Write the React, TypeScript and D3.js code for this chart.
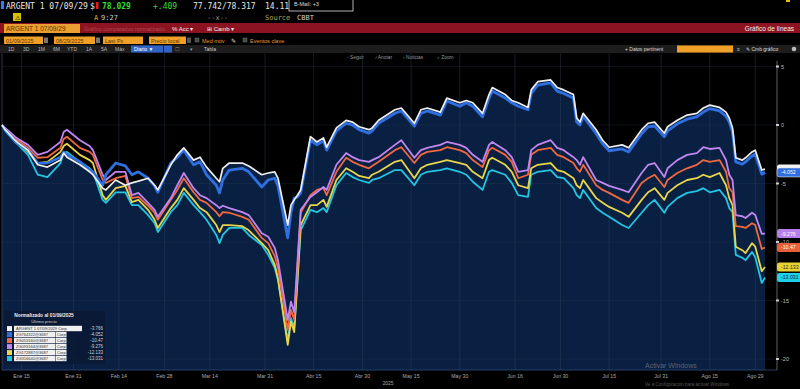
import * as d3 from 'd3';

// fechas (normalizado al 01/09/2025)
const fechas = [
  '2025-01-09','2025-01-10','2025-01-13','2025-01-14','2025-01-17','2025-01-20','2025-01-23','2025-01-27','2025-01-28','2025-01-29',
  '2025-02-02','2025-02-05','2025-02-06','2025-02-09','2025-02-10','2025-02-13','2025-02-16','2025-02-18','2025-02-20','2025-02-23',
  '2025-02-25','2025-02-26','2025-03-02','2025-03-04','2025-03-06','2025-03-09','2025-03-11','2025-03-13','2025-03-16','2025-03-17',
  '2025-03-18','2025-03-20','2025-03-24','2025-03-26','2025-03-30','2025-04-01','2025-04-03','2025-04-04','2025-04-07','2025-04-08',
  '2025-04-09','2025-04-10','2025-04-11','2025-04-14','2025-04-16','2025-04-18','2025-04-19','2025-04-22','2025-04-25','2025-04-27',
  '2025-04-29','2025-05-02','2025-05-03','2025-05-05','2025-05-10','2025-05-12','2025-05-16','2025-05-18','2025-05-20','2025-05-24',
  '2025-05-26','2025-05-30','2025-06-01','2025-06-03','2025-06-06','2025-06-08','2025-06-09','2025-06-13','2025-06-15','2025-06-17',
  '2025-06-20','2025-06-21','2025-06-23','2025-06-27','2025-06-29','2025-07-01','2025-07-04','2025-07-05','2025-07-06','2025-07-07',
  '2025-07-11','2025-07-13','2025-07-15','2025-07-19','2025-07-21','2025-07-25','2025-07-27','2025-07-29','2025-08-01','2025-08-02',
  '2025-08-05','2025-08-08','2025-08-11','2025-08-13','2025-08-15','2025-08-18','2025-08-20','2025-08-21','2025-08-22','2025-08-23',
  '2025-08-25','2025-08-26','2025-08-28','2025-08-29','2025-08-31','2025-09-01'
];

const argent = [
  0,-0.4,-1.3,-1.55,-2.15,-3.4,-3.6,-3.0,-2.4,-2.75,
  -3.4,-4.0,-4.25,-5.4,-5.55,-4.7,-5.15,-4.95,-4.8,-4.55,
  -5.15,-5.55,-3.4,-2.55,-1.95,-3.0,-2.75,-3.6,-4.55,-4.85,
  -3.7,-3.25,-3.25,-3.5,-4.25,-4.1,-4.0,-4.55,-8.55,-6.85,
  -6.4,-6.0,-5.55,-1.0,-1.45,-1.1,-1.9,-0.25,0.4,0.25,
  -0.15,-0.4,-0.25,0.4,1.3,1.45,0.15,1.3,1.45,1.1,
  2.3,1.9,2.1,1.9,1.0,2.6,3.2,2.6,2.1,1.9,
  1.5,3.0,3.7,3.85,3.2,3.0,2.6,0.6,0.25,1.0,
  -0.4,-1.3,-1.9,-1.7,-1.95,-0.4,0.15,0.25,-0.7,-0.15,
  0.4,0.85,1.0,1.45,1.7,1.5,1.1,0.6,-0.25,-2.8,
  -3.0,-2.8,-2.3,-2.15,-3.85,-3.766
];

const serieAzul = [
  0,-0.4,-1.35,-1.6,-2.15,-3.25,-3.25,-2.75,-2.3,-2.55,
  -3.15,-3.85,-4.0,-5.15,-4.25,-3.25,-3.5,-4.25,-4.0,-4.55,
  -5.2,-5.75,-3.25,-2.75,-2.15,-3.4,-3.15,-4.25,-5.15,-5.8,
  -4.7,-3.85,-3.7,-4.0,-5.3,-4.7,-4.55,-5.2,-9.65,-7.45,
  -6.25,-6.15,-5.8,-1.3,-1.7,-1.35,-2.15,-0.5,0.15,0,
  -0.4,-0.7,-0.5,0.15,1.0,1.2,-0.1,1.0,1.2,0.85,
  2.05,1.6,1.9,1.6,0.7,2.3,2.9,2.3,1.9,1.6,
  1.3,2.7,3.4,3.6,2.9,2.7,2.3,0.25,0,0.75,
  -0.75,-1.6,-2.2,-2.05,-2.3,-0.75,-0.15,-0.1,-1.0,-0.5,
  0.1,0.5,0.7,1.1,1.4,1.2,0.75,0.25,-0.6,-3.15,
  -3.35,-3.15,-2.65,-2.5,-4.2,-4.052
];

const serieNaranja = [
  0,-0.35,-1.2,-1.35,-1.95,-2.8,-2.75,-1.95,-1.2,-1.0,
  -1.95,-2.3,-2.55,-4.7,-4.95,-4.55,-4.35,-6.25,-6.15,-6.9,
  -7.5,-8.1,-6.4,-5.55,-4.55,-5.75,-6.4,-6.65,-7.45,-7.8,
  -7.45,-7.5,-7.85,-8.1,-9.65,-10.1,-11.2,-12.2,-17.5,-15.8,
  -16.65,-12.2,-7.5,-6.0,-5.55,-5.4,-6.0,-4.0,-2.8,-3.15,
  -3.4,-3.7,-3.5,-3.15,-2.15,-1.9,-3.25,-2.55,-2.3,-2.15,
  -1.9,-2.15,-2.4,-3.0,-3.6,-2.15,-1.95,-2.55,-3.15,-4.55,
  -4.25,-2.55,-2.15,-1.95,-2.55,-2.75,-3.25,-3.7,-4.0,-3.4,
  -5.15,-5.55,-5.8,-6.4,-6.65,-4.95,-4.55,-4.25,-5.3,-4.7,
  -4.1,-3.7,-3.4,-3.0,-3.15,-3.0,-4.0,-5.4,-5.75,-8.65,
  -8.7,-8.8,-8.4,-8.55,-10.6,-10.47
];

const serieVioleta = [
  0,-0.25,-1.0,-1.2,-1.7,-2.55,-2.3,-1.45,-0.6,-0.4,
  -1.3,-1.8,-2.15,-4.25,-4.7,-4.0,-4.0,-6.0,-5.8,-6.65,
  -7.25,-7.85,-6.25,-5.15,-4.1,-5.4,-6.0,-6.25,-6.85,-7.1,
  -6.9,-7.1,-7.45,-7.7,-9.25,-9.55,-10.5,-11.55,-16.65,-15.1,
  -16.0,-11.7,-7.25,-6.15,-5.75,-5.3,-5.55,-3.4,-2.4,-2.75,
  -3.0,-3.15,-3.0,-2.75,-1.7,-1.3,-2.8,-2.15,-1.95,-1.7,
  -1.45,-1.7,-1.95,-2.55,-3.15,-1.7,-1.45,-2.15,-2.75,-4.0,
  -3.85,-2.15,-1.7,-1.3,-1.95,-2.15,-2.75,-3.0,-3.4,-2.75,
  -4.7,-4.95,-5.2,-5.55,-5.75,-4.1,-3.4,-3.25,-4.45,-3.7,
  -3.0,-2.55,-2.4,-1.9,-2.05,-1.95,-3.0,-4.25,-4.7,-7.7,
  -7.8,-7.95,-7.5,-7.7,-9.3,-9.276
];

const serieAmarilla = [
  0,-0.4,-1.3,-1.55,-2.3,-3.25,-3.15,-2.3,-1.8,-1.6,
  -2.55,-3.0,-3.25,-6.0,-6.4,-5.4,-5.2,-6.6,-6.4,-7.25,
  -8.1,-8.8,-7.1,-6.4,-5.4,-6.4,-7.1,-7.45,-8.55,-9.15,
  -8.55,-8.55,-8.65,-9.0,-10.1,-10.7,-11.95,-13.1,-18.8,-16.8,
  -17.7,-13.25,-8.55,-6.85,-6.85,-6.4,-7.0,-4.7,-3.7,-4.0,
  -4.35,-4.55,-4.25,-4.0,-3.15,-3.0,-4.55,-3.7,-3.4,-3.15,
  -3.0,-3.25,-3.4,-4.0,-4.55,-3.0,-2.8,-3.4,-4.0,-5.15,
  -5.4,-3.7,-3.4,-3.25,-3.85,-4.0,-4.55,-5.15,-5.4,-4.7,
  -6.25,-6.65,-7.0,-7.5,-7.85,-6.4,-5.75,-5.4,-6.4,-5.8,
  -5.15,-4.7,-4.55,-4.25,-4.45,-4.1,-5.15,-6.25,-6.85,-10.4,
  -10.7,-10.95,-10.1,-10.4,-12.5,-12.133
];

const serieCian = [
  0,-0.5,-1.45,-1.7,-2.55,-4.25,-4.45,-3.25,-2.4,-2.3,
  -3.15,-3.7,-4.0,-6.4,-6.65,-5.75,-5.75,-6.85,-6.85,-7.7,
  -8.4,-9.15,-7.45,-6.85,-5.8,-6.85,-7.45,-8.1,-9.4,-10.1,
  -9.4,-8.8,-8.8,-9.4,-10.25,-11.1,-12.2,-13.25,-18.4,-16.5,
  -17.35,-13.4,-9.0,-7.25,-7.45,-7.1,-7.45,-5.15,-4.1,-4.45,
  -4.7,-4.95,-4.7,-4.55,-3.85,-3.85,-5.15,-4.25,-4.0,-3.85,
  -3.7,-4.0,-4.25,-4.85,-5.55,-4.0,-3.85,-4.25,-4.95,-6.0,
  -6.15,-4.25,-4.0,-3.85,-4.45,-4.55,-5.4,-6.0,-6.25,-5.55,
  -7.1,-7.5,-7.85,-8.55,-8.8,-7.5,-6.85,-6.4,-7.5,-7.0,
  -6.25,-5.8,-5.65,-5.4,-5.75,-5.55,-6.25,-7.1,-7.45,-11.1,
  -11.35,-11.55,-10.85,-11.3,-13.5,-13.031
];

const ticksFecha = ['2025-01-15','2025-01-31','2025-02-14','2025-02-28','2025-03-14','2025-03-31','2025-04-15','2025-04-30',
  '2025-05-15','2025-05-30','2025-06-16','2025-06-30','2025-07-15','2025-07-31','2025-08-15','2025-08-29'];
const ticksEtiqueta = ['Ene 15','Ene 31','Feb 14','Feb 28','Mar 14','Mar 31','Abr 15','Abr 30',
  'May 15','May 30','Jun 16','Jun 30','Jul 15','Jul 31','Ago 15','Ago 29'];
const ticksY = [5, 0, -5, -10, -15, -20];

// legend order
const leyendaNombres = ['ARGENT 1 07/09/2029 Corp','ZG764322@3687','ZG053160@3687','ZG093164@3687','ZG172887@3687','ZG316640@3687'];
const leyendaValores = ['-3.766','-4.052','-10.47','-9.276','-12.133','-13.031'];
const leyendaColores = ['#f2f2f2','#2f6fe0','#f0683f','#c186f0','#e8d64a','#22c6e2'];

const parse = d3.timeParse('%Y-%m-%d');

const plotTop = 53, plotBottom = 370, plotLeft = 2, plotRight = 765, axisX = 777;
const mono = 'DejaVu Sans Mono, monospace';
const sans = 'Liberation Sans, Arial, sans-serif';

export default function App() {
  const fd = fechas.map(d => parse(d) as Date);
  const x = d3.scaleTime().domain([fd[0], fd[fd.length - 1]]).range([plotLeft, plotRight]);
  const y = d3.scaleLinear().domain([5, -20]).range([66.5, 359]);

  const lineGen = d3.line<number>().x((_, i) => x(fd[i])).y(v => y(v));
  const areaGen = d3.area<number>().x((_, i) => x(fd[i])).y0(plotBottom).y1(v => y(v));

  const lineas = [
    { v: serieCian, c: '#22c6e2', w: 1.8 },
    { v: serieAmarilla, c: '#e8d64a', w: 1.8 },
    { v: serieNaranja, c: '#f0683f', w: 1.8 },
    { v: serieVioleta, c: '#c186f0', w: 1.8 },
    { v: serieAzul, c: '#2f6fe0', w: 2.8 },
    { v: argent, c: '#eeeeee', w: 1.7 },
  ];

  // the white series' tag sits behind the blue one, only its edge shows
  const etiquetasDer = [
    { v: argent, c: '#f2f2f2', t: '', s: '' },
    { v: serieAzul, c: '#2f6fe0', t: '#fff', s: leyendaValores[1] },
    { v: serieVioleta, c: '#b77fe8', t: '#fff', s: leyendaValores[3] },
    { v: serieNaranja, c: '#e8603a', t: '#fff', s: leyendaValores[2] },
    { v: serieAmarilla, c: '#e8d030', t: '#333', s: leyendaValores[4] },
    { v: serieCian, c: '#1ed0ea', t: '#123', s: leyendaValores[5] },
  ];

  const orangeBox = (bx: number, bw: number, label: string) => (
    <g key={label}>
      <rect x={bx} y={36.5} width={bw} height={7.5} fill="#f0a028" />
      <text x={bx + 2} y={42.5} fontSize={5.5} fill="#5a3800" fontFamily={sans}>{label}</text>
    </g>
  );

  return (
    <svg width={800} height={389} style={{ position: 'absolute', left: 0, top: 0, display: 'block' }}>
      <rect x={0} y={0} width={800} height={389} fill="#000" />

      {/* header row 1 */}
      <rect x={1} y={1} width={3} height={8} fill="#2a7fff" />
      <text x={6} y={8.5} fontSize={8} fontFamily={mono} fill="#e6e6e6">ARGENT 1 07/09/29</text>
      <text x={90} y={8.5} fontSize={8} fontFamily={mono} fill="#e6e6e6">$</text>
      <rect x={96} y={2} width={2.5} height={7} fill="#e02020" />
      <text x={102} y={8.5} fontSize={8} fontFamily={mono} fontWeight="bold" fill="#33dd33">78.029</text>
      <text x={153} y={8.5} fontSize={8} fontFamily={mono} fill="#33dd33">+.409</text>
      <text x={193} y={8.5} fontSize={8} fontFamily={mono} fill="#e6e6e6">77.742/78.317</text>
      <text x={265} y={8.5} fontSize={8} fontFamily={mono} fill="#e6e6e6">14.11</text>
      <rect x={289} y={-1} width={64} height={12} fill="#000" stroke="#ddd" strokeWidth={0.8} />
      <text x={294} y={6} fontSize={5.5} fontFamily={sans} fill="#ddd">B-Mail: +3</text>
      <rect x={786} y={0} width={4} height={2} fill="#e8c000" />

      {/* header row 2 */}
      <rect x={13} y={13} width={8} height={8} fill="#d8c000" />
      <text x={17} y={19.5} fontSize={6} textAnchor="middle" fontFamily={sans} fill="#000">⚠</text>
      <text x={94} y={19.5} fontSize={7} fontFamily={mono} fill="#f0a030">A</text>
      <text x={101} y={19.5} fontSize={7} fontFamily={mono} fill="#cfcfcf">9:27</text>
      <text x={207} y={19.5} fontSize={7} fontFamily={mono} fill="#9a9a9a">--x--</text>
      <text x={265} y={19.5} fontSize={7} fontFamily={mono} fill="#b0a458">Source</text>
      <text x={297} y={19.5} fontSize={7} fontFamily={mono} fill="#cfcfcf">CBBT</text>

      {/* red bar */}
      <rect x={0} y={23} width={800} height={10} fill="#8c1420" />
      <rect x={4} y={24} width={76} height={9} fill="#eaa030" />
      <text x={6} y={31} fontSize={6.5} fontFamily={sans} fill="#5a3000">ARGENT 1 07/09/29</text>
      <text x={84} y={31} fontSize={5.5} fontFamily={sans} fill="#b04452">Gráfico comparativo normalizado</text>
      <text x={172} y={31} fontSize={6} fontFamily={sans} fill="#f2f2f2">% Acc ▾</text>
      <text x={207} y={31} fontSize={6} fontFamily={sans} fill="#f2f2f2">⊞ Camb ▾</text>
      <text x={794} y={31} fontSize={6.5} fontFamily={sans} fill="#f2f2f2" textAnchor="end">Gráfico de líneas</text>

      {/* orange field row */}
      {orangeBox(4, 39, '01/09/2025')}
      <rect x={44} y={37.5} width={4} height={5.5} fill="#777" />
      {orangeBox(54, 41, '08/29/2025')}
      <rect x={96} y={37.5} width={4} height={5.5} fill="#777" />
      {orangeBox(103, 40, 'Last Px')}
      {orangeBox(149, 37, 'Precio local')}
      <rect x={187} y={37.5} width={4} height={5.5} fill="#555" />
      <rect x={195} y={38} width={4} height={4} fill="#444" stroke="#888" strokeWidth={0.4} />
      <text x={202} y={42.5} fontSize={5.5} fontFamily={sans} fill="#e89a30">Med móv</text>
      <text x={231} y={42.5} fontSize={5.5} fontFamily={sans} fill="#ddd">✎</text>
      <rect x={243} y={38} width={4} height={4} fill="#444" stroke="#888" strokeWidth={0.4} />
      <text x={250} y={42.5} fontSize={5.5} fontFamily={sans} fill="#e89a30">Eventos clave</text>

      {/* button row */}
      <rect x={0} y={45} width={800} height={8} fill="#1d1d1d" />
      {['1D', '3D', '1M', '6M', 'YTD', '1A', '5A', 'Máx'].map((t, i) => (
        <text key={t} x={[8, 23, 38, 53, 67, 86, 101, 115][i]} y={51} fontSize={5} fontFamily={sans} fill="#b8b8b8">{t}</text>
      ))}
      <rect x={131} y={45.5} width={32} height={7} fill="#2f63c8" />
      <text x={134} y={51} fontSize={5} fontFamily={sans} fill="#fff">Diario ▼</text>
      <rect x={164} y={45.5} width={8} height={7} fill="#2f63c8" />
      <text x={175} y={51} fontSize={5} fontFamily={sans} fill="#999">☐</text>
      <text x={190} y={51} fontSize={5} fontFamily={sans} fill="#999">▾</text>
      <text x={204} y={51} fontSize={5} fontFamily={sans} fill="#ccc">Tabla</text>
      <text x={625} y={51} fontSize={5} fontFamily={sans} fill="#ddd">+ Datos pertinent</text>
      <rect x={677} y={45.5} width={56} height={7} fill="#f0a028" />
      <text x={737} y={51} fontSize={5} fontFamily={sans} fill="#ccc">≡</text>
      <text x={746} y={51} fontSize={5} fontFamily={sans} fill="#ddd">✎ Cmb gráfico</text>
      <circle cx={794} cy={49} r={2.3} fill="#bbb" />

      {/* toolbar inside plot */}
      {[['◦ Seguir', 347], ['∕ Anotar', 376], ['▫ Noticias', 403], ['⌕ Zoom', 437]].map(([t, px]) => (
        <text key={t as string} x={px as number} y={59} fontSize={4.8} fontFamily={sans} fill="#9a9a9a">{t}</text>
      ))}

      {/* plot */}
      <path d={areaGen(argent) || ''} fill="#0a2042" />
      {ticksY.map(t => (
        <line key={t} x1={plotLeft} x2={axisX} y1={y(t)} y2={y(t)} stroke="#2a3a55" strokeWidth={0.5} opacity={0.6} />
      ))}
      {ticksFecha.map(t => {
        const px = x(parse(t) as Date);
        return <line key={t} x1={px} x2={px} y1={plotTop} y2={plotBottom} stroke="#34445e" strokeWidth={0.6} opacity={0.7} />;
      })}
      <line x1={plotLeft} x2={plotLeft} y1={plotTop} y2={plotBottom} stroke="#34445e" strokeWidth={0.8} />
      {lineas.map((l, i) => (
        <path key={i} d={lineGen(l.v) || ''} fill="none" stroke={l.c} strokeWidth={l.w} strokeLinejoin="round" />
      ))}
      <line x1={plotLeft} x2={axisX} y1={plotBottom} y2={plotBottom} stroke="#2c4b7c" strokeWidth={0.8} />

      {/* right axis */}
      <line x1={axisX} x2={axisX} y1={plotTop + 8} y2={plotBottom} stroke="#8a8a8a" strokeWidth={0.7} />
      {ticksY.map(t => (
        <g key={t}>
          <rect x={axisX - 1} y={y(t) - 1} width={3} height={2} fill="#ccc" />
          <text x={axisX + 4} y={y(t) + 2} fontSize={5.5} fontFamily={sans} fill="#bdbdbd">{t}</text>
        </g>
      ))}
      {etiquetasDer.map((e, i) => {
        const cy = y(e.v[e.v.length - 1]);
        return (
          <g key={i}>
            <rect x={axisX} y={cy - 4.5} width={26} height={9} rx={2.5} fill={e.c} stroke={i === 1 ? '#e8e8e8' : 'none'} strokeWidth={0.6} />
            {e.s && <text x={axisX + 4} y={cy + 2} fontSize={5.2} fontFamily={sans} fill={e.t}>{e.s}</text>}
          </g>
        );
      })}

      {/* x axis labels */}
      {ticksFecha.map((t, i) => (
        <text key={t} x={x(parse(t) as Date)} y={377.5} fontSize={5.2} textAnchor="middle" fontFamily={sans} fill="#a8a8a8">{ticksEtiqueta[i]}</text>
      ))}
      <text x={388} y={385} fontSize={4.8} textAnchor="middle" fontFamily={sans} fill="#a8a8a8">2025</text>

      {/* legend */}
      <rect x={4} y={311} width={101} height={53} fill="#0b1a34" opacity={0.85} />
      <text x={44} y={317} fontSize={4.8} textAnchor="middle" fontFamily={sans} fontWeight="bold" fill="#eee">Normalizado al 01/09/2025</text>
      <text x={44} y={323} fontSize={4.4} textAnchor="middle" fontFamily={sans} fill="#ccc">Último precio</text>
      {leyendaNombres.map((n, i) => {
        const cy = 328.5 + i * 6;
        return (
          <g key={n}>
            <rect x={7} y={cy - 2.4} width={5} height={5} fill={leyendaColores[i]} />
            {i === 0 ? (
              <rect x={14} y={cy - 2.7} width={68} height={5.4} fill="#f0f0f0" />
            ) : (
              <g>
                <rect x={14} y={cy - 2.7} width={41} height={5.4} fill="#f0f0f0" />
                <rect x={55.5} y={cy - 2.7} width={11} height={5.4} fill="#f0f0f0" />
                <text x={57} y={cy + 1.5} fontSize={4} fontFamily={sans} fill="#333">Corp</text>
              </g>
            )}
            <text x={16} y={cy + 1.5} fontSize={4} fontFamily={sans} fill="#333">{n}</text>
            <text x={103} y={cy + 1.6} fontSize={4.5} textAnchor="end" fontFamily={sans} fill="#cfcfcf">{leyendaValores[i]}</text>
          </g>
        );
      })}

      {/* windows watermark */}
      <text x={645} y={368} fontSize={7} fontFamily={sans} fill="#9a9a9a" opacity={0.55}>Activar Windows</text>
      <text x={645} y={386} fontSize={4.6} fontFamily={sans} fill="#9a9a9a" opacity={0.55}>Ve a Configuración para activar Windows.</text>
    </svg>
  );
}
